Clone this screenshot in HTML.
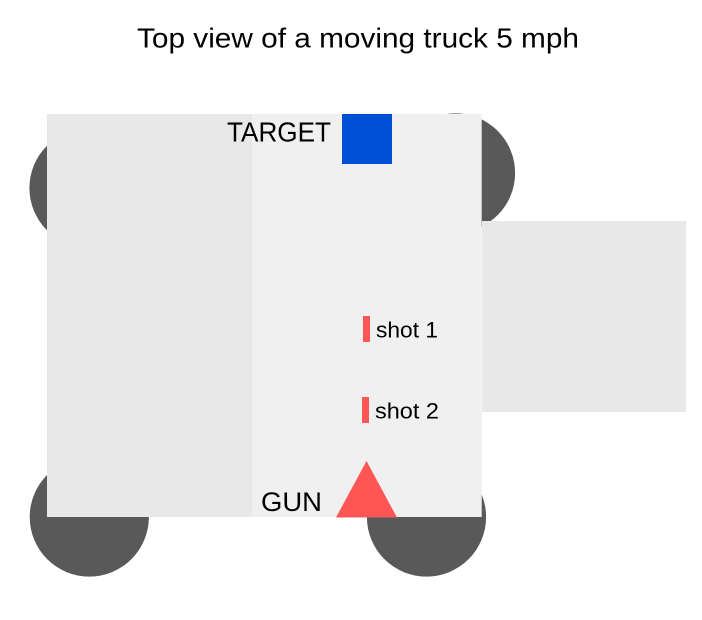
<!DOCTYPE html>
<html>
<head>
<meta charset="utf-8">
<style>
html,body{margin:0;padding:0;background:#fff;width:702px;height:620px;overflow:hidden}
svg{display:block}
text{font-family:"Liberation Sans",sans-serif;fill:#000}
</style>
</head>
<body>
<svg width="702" height="620" viewBox="0 0 702 620" xmlns="http://www.w3.org/2000/svg">
<rect width="702" height="620" fill="#fff"/>
<text x="137" y="47.5" font-size="28" textLength="442" lengthAdjust="spacingAndGlyphs">Top view of a moving truck 5 mph</text>
<circle cx="89" cy="188" r="59.6" fill="#595959"/>
<circle cx="455.5" cy="173" r="59.6" fill="#595959"/>
<circle cx="89.3" cy="517" r="59.6" fill="#595959"/>
<circle cx="426.5" cy="517" r="59.6" fill="#595959"/>
<rect x="482" y="221" width="204" height="191" fill="#e8e8e8"/>
<rect x="47" y="114" width="205" height="403" fill="#e8e8e8"/>
<rect x="252" y="114" width="229.7" height="403" fill="#f0f0f0"/>
<rect x="342" y="114" width="50" height="50" fill="#0050d5"/>
<polygon points="366.5,461 397,517.5 336,517.5" fill="#ff5555"/>
<rect x="363" y="316" width="7" height="26" fill="#ff5555"/>
<rect x="362" y="397" width="7" height="26" fill="#ff5555"/>
<text x="227" y="141.7" font-size="28" textLength="104" lengthAdjust="spacingAndGlyphs">TARGET</text>
<text x="261" y="511" font-size="27" textLength="61" lengthAdjust="spacingAndGlyphs">GUN</text>
<text x="376" y="337.5" font-size="22.5" textLength="62" lengthAdjust="spacingAndGlyphs">shot 1</text>
<text x="375" y="418.5" font-size="22.5" textLength="64" lengthAdjust="spacingAndGlyphs">shot 2</text>
</svg>
</body>
</html>
